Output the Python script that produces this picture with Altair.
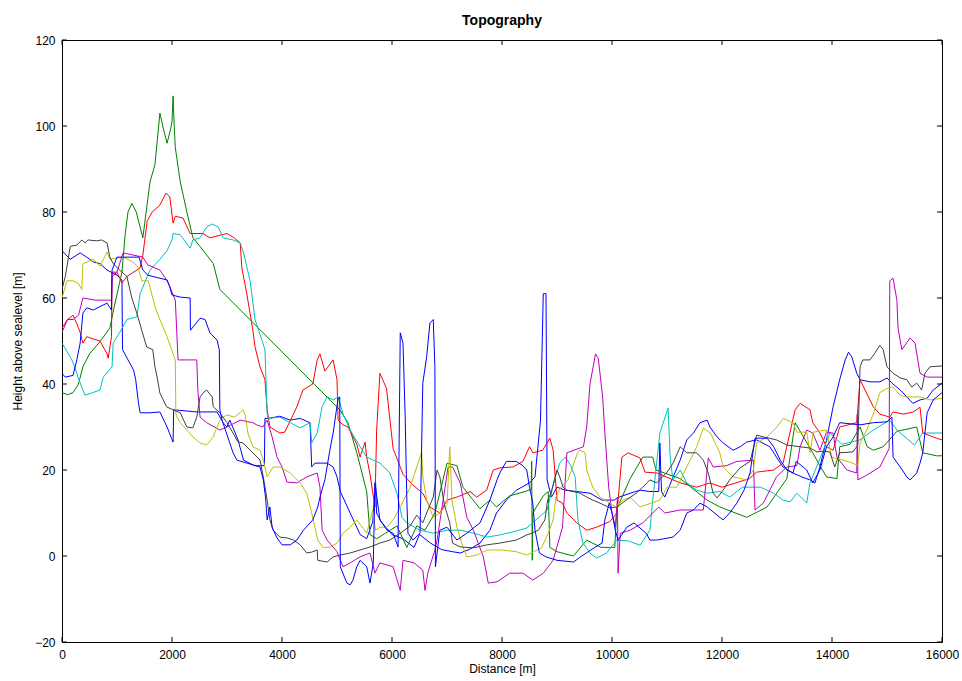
import altair as alt
import pandas as pd

# Profile lines: (distance [m], height [m]) along each transect
blue_a = [(0,71),(150,69),(330,70.5),(450,69.5),(570,68.4),(690,68),(820,66.5),(1000,65.3),(1090,64.2),(1100,48),
          (1200,45.6),(1300,43.3),(1340,41),(1390,35.6),(1420,33.3),(1600,33.3),(1780,33.5),(1850,31.6),(1910,30),
          (2020,26.5),(2030,34),(2450,33.5),(2820,33.5),(2930,31),(3000,30),(3050,31.6),(3150,28.6),(3200,27),
          (3300,22.3),(3500,21),(3680,21),(3690,32),(3750,32),(3960,32.5),(4150,31.6),(4330,32),(4510,31),
          (4540,20.7),(4600,21.6),(4820,21.6),(4930,20.7),(5000,18.4),(5060,15),(5240,10),(5420,5),(5540,4),
          (5650,8),(5700,17.7),(5720,10),(5800,8),(6000,5),(6200,4),(6400,2),(6500,5),(6700,3),(6900,1.5),
          (7100,1),(7240,0.7),(7400,1.5),(7600,3),(7780,6),(7900,10),(8080,13),(8260,15.3),(8500,17),(8600,18.4),
          (8700,31.6),(8750,61),(8800,61),(8820,17.7),(8900,13.7),(9000,16),(9150,15.3),(9360,15),(9600,14.6),
          (9820,13),(10040,13),(10090,13.5),(10330,14.6),(10510,15.3),(10690,15),(10850,15),(10870,26.3),
          (10900,15),(10960,13.7),(11100,18),(11240,22.3),(11360,27),(11480,28.6),(11600,31),(11730,31.6),
          (11780,30),(11910,27.7),(12020,26.3),(12200,24.6),(12330,25.4),(12450,26.5),(12630,27),(12870,25.4),
          (12990,23),(13110,20.7),(13290,19.3),(13450,18.4),(13600,17.7),(13690,17),(13780,20.7),(13900,27),
          (14020,34.7),(14140,41),(14240,45.6),(14300,47.4),(14360,46.3),(14450,42.5),(14510,41),(14690,40.5),
          (14870,40.5),(15000,41.4),(15090,40.2),(15240,38.6),(15360,37),(15470,35.5),(15600,36.3),(15730,36.7),
          (15840,38.6),(16000,40.2)]

green = [(0,38),(100,37.5),(200,38),(300,40),(380,44),(500,47),(700,50),(870,53),(950,58),(1090,66),(1150,75),
         (1200,80),(1270,82),(1350,80),(1470,74),(1530,80),(1600,87),(1690,91),(1780,103),(1850,99),(1910,96),
         (1970,99),(2000,101),(2020,107),(2040,100),(2060,95),(2150,87),(2270,80),(2380,74),(2510,72),(2750,68),
         (2870,62),(5050,34),(5200,31),(5360,24),(5420,21),(5540,15),(5600,5),(5720,4),(6090,7),(6270,2),(6450,7),
         (6600,6),(6780,10),(7000,21.6),(7180,21),(7290,16),(7600,11),(7780,13),(7900,11.4),(8140,14),(8420,15),
         (8530,15.5),(8540,22),(8550,-1),(8560,10),(8750,14),(8840,15),(8870,2),(9000,1),(9300,0),(9540,3.7),
         (9800,2),(10050,2),(10090,11),(10330,18),(10560,23),(10740,23),(10800,20),(11240,18),(11730,13),
         (11960,11.4),(12450,9),(12820,11.4),(13180,18),(13330,31),(13650,24),(13780,21),(13900,18.4),(14090,18),
         (14140,25.4),(14330,26),(14510,30),(14640,25.4),(14750,24.6),(14930,25.4),(15180,29),(15540,30),
         (15650,24),(15900,23.3),(16000,23.3)]

red = [(0,53),(100,55),(200,56),(270,54),(330,52),(380,49.5),(450,51),(560,50.5),(690,50),(820,47),(840,46),
       (900,51),(910,65),(1000,66),(1090,63.5),(1180,65),(1420,67),(1470,70),(1550,78),(1640,80),(1780,81.6),
       (1890,84.4),(1960,83.5),(2020,77.4),(2060,79),(2200,78.6),(2330,75),(2560,75),(2690,74),(3000,75),
       (3130,74),(3240,72.8),(3270,67),(3360,61),(3470,52.5),(3510,48.6),(3600,44),(3690,41),(3730,34),(3780,30),
       (3960,28.6),(4050,28.8),(4270,34.7),(4380,38.6),(4560,40),(4640,45.6),(4690,47),(4780,43),(4930,45.6),
       (5000,41),(5020,31.6),(5110,30.5),(5200,30),(5360,26),(5420,23),(5510,26.5),(5540,23),(5600,19),
       (5690,11.4),(5720,29),(5780,42.5),(5900,39),(6020,25),(6200,19),(6380,16.5),(6560,14.6),(6690,11.4),
       (6870,10),(7000,13),(7180,13.7),(7420,15),(7540,13.7),(7720,15.3),(7840,20),(7960,20.5),(8200,20.7),
       (8380,22),(8500,25.4),(8560,24),(8740,24.6),(8870,27.4),(8930,24.6),(9000,13),(9100,12.3),(9180,10),
       (9360,7.7),(9540,6),(9720,6.7),(9960,8),(10090,10),(10180,23),(10290,24),(10510,22.8),(10600,19.5),
       (10820,19.3),(11240,17),(11540,16),(11780,17),(12000,16),(12500,18),(12630,19.5),(12940,20),(13110,21.6),
       (13330,34),(13420,35.5),(13600,34),(13650,31),(13780,28.6),(13900,25.4),(14020,24.6),(14140,30),
       (14450,31),(14510,41),(14750,34.7),(14870,33),(15050,32.3),(15110,33.5),(15300,33),(15480,33.5),
       (15600,34.6),(15650,28.6),(15900,27.4),(16000,27)]

cyan = [(0,49.5),(180,45.6),(240,43.7),(290,41.6),(380,38.6),(420,37.4),(560,38),(690,38.6),(750,41.6),(910,44),
        (930,49.5),(1050,52),(1180,55),(1360,55.6),(1420,61),(1550,65),(1600,66.5),(1780,69),(1910,71),(2000,73.5),
        (2020,75),(2150,74.7),(2330,71.6),(2380,73.5),(2510,74),(2630,76.5),(2730,77.2),(2840,76.5),(2930,74),
        (3110,73.5),(3240,72.8),(3300,70.5),(3420,64),(3510,55),(3640,50),(3690,48),(3730,33),(3750,32),
        (3960,32.3),(4150,31),(4330,29.8),(4510,31),(4540,26.3),(4640,28.6),(4730,34.7),(4820,37),(4930,36.3),
        (5020,37),(5110,33),(5240,29.3),(5420,25.4),(5540,23),(5780,21.6),(5960,19.3),(6090,14.6),(6180,9),
        (6270,7.7),(6510,6),(6750,5.3),(7000,6),(7240,6),(7480,5.3),(7730,4.4),(7960,4.9),(8200,5.6),(8450,6.5),
        (8820,10.7),(8960,18),(9050,21.6),(9150,23),(9250,21),(9330,18.4),(9380,8.4),(9470,3),(9600,0.7),
        (9720,-0.5),(9900,0.7),(10090,3.7),(10300,3.5),(10510,2.5),(10690,6),(10740,13),(10870,28.6),
        (11020,34.4),(11060,22.3),(11110,17.7),(11240,20),(11360,17),(11540,15.3),(11730,14.6),(11960,15),
        (12140,13.7),(12370,16),(12700,16),(12940,14.6),(13110,13),(13240,12.6),(13360,14.6),(13540,12.3),
        (13600,17),(13720,20.7),(13840,24.6),(13960,28.6),(14180,26),(14510,27),(14750,29.3),(15050,31.6),
        (15180,29.3),(15500,25.8),(15650,28.6),(16000,28.6)]

magenta = [(0,52),(100,55),(200,55),(300,56),(380,60),(600,59.5),(840,59.5),(900,59.5),(910,66),(1000,66),
           (1110,70.5),(1290,70),(1470,69.5),(1560,67.7),(1780,66.5),(1910,64),(1960,62.6),(2060,59.5),
           (2110,45.6),(2150,45.6),(2450,45.6),(2470,38.6),(2510,32.3),(2630,31),(2870,29.3),(3000,30),
           (3240,31.6),(3470,31),(3540,30.5),(3650,30),(3730,31.6),(3820,27.7),(3910,23),(4000,20.7),(4090,17.2),
           (4270,17),(4450,18.4),(4640,19.3),(4690,16),(4730,6),(4820,3.7),(5000,1),(5110,-2.5),(5240,-1.6),
           (5420,-0.2),(5600,0.7),(5690,-4),(5780,-1.6),(6020,-2.5),(6150,-8),(6200,-1),(6400,-1.6),(6560,-3.3),
           (6600,-8),(6650,-4),(6780,1.4),(6820,3.7),(7020,20.7),(7100,20.7),(7240,17),(7360,9),(7480,6),
           (7660,-0.2),(7750,-6.3),(7910,-6),(8140,-4),(8380,-4),(8560,-5.6),(8750,-4),(8930,-1),(9100,6.7),
           (9180,24),(9480,25.4),(9540,30),(9600,40),(9700,47),(9750,46),(9830,37),(9870,28.6),(9940,16),
           (10000,10),(10060,6.7),(10100,13.7),(10110,-4),(10150,5.3),(10330,6),(10560,7.7),(10850,11.4),
           (10960,10),(11240,10.7),(11660,10.7),(11750,22.8),(11840,20.7),(12080,21),(12270,22),(12570,22.3),
           (12600,10.7),(12750,12.3),(12870,15.3),(12990,18.4),(13180,20.7),(13360,21),(13420,25.4),(13540,29.3),
           (13650,28.6),(13780,24.6),(13900,28.8),(14020,28.6),(14090,23),(14270,20),(14450,19.3),(14460,33),
           (14470,17.7),(14630,18.8),(14870,20.7),(14960,23),(15040,25),(15050,64),(15110,64.6),(15180,59.5),
           (15200,53),(15270,48),(15420,50.7),(15510,49.5),(15600,42.5),(15730,41.6),(16000,41.6)]

yellow = [(0,60),(90,64),(200,64),(290,63.5),(360,62),(380,68),(570,69),(690,67.4),(820,70.7),(870,69),(1000,69.3),
          (1110,69.5),(1290,68.4),(1380,67.2),(1450,64),(1570,64),(1690,58),(1780,55),(1910,51),(2020,47),
          (2060,45.6),(2070,33),(2090,32.3),(2150,31),(2270,29.3),(2380,27.7),(2510,26.3),(2630,25.8),(2750,27.7),
          (2820,30),(2870,31.6),(2930,32.3),(3000,32.8),(3140,32.3),(3290,34),(3330,32.8),(3380,28.6),(3470,25.4),
          (3600,24.6),(3660,22.3),(3730,18.4),(3840,20.7),(3960,20.7),(4150,19.3),(4330,17),(4450,14.6),(4540,10),
          (4650,3.7),(4750,1.9),(4880,2.1),(5000,3),(5110,5.3),(5240,6.7),(5360,8.4),(5540,5.3),(5650,10.7),
          (5700,6),(5780,6.7),(5910,6.7),(6020,8.4),(6150,11.4),(6330,16),(6450,20.7),(6540,24.2),(6560,18.4),
          (6630,13),(6750,9),(6870,10),(7000,12),(7050,25.4),(7090,13),(7180,6.7),(7290,2.1),(7360,-0.2),
          (7540,0.2),(7730,1.4),(8000,1.4),(8260,1),(8450,0.2),(8720,1.9),(8840,5.3),(8930,8.4),(8980,13.7),
          (9070,16),(9200,17.7),(9380,24.2),(9420,24.6),(9510,24),(9540,20),(9650,16),(9780,13.7),(9960,12.3),
          (10070,11.4),(10200,13),(10330,13.7),(10510,11.4),(10870,13),(11000,16),(11180,16),(11360,20.7),
          (11540,25.4),(11660,29.7),(11790,28.6),(11960,24),(12020,20.7),(12200,18.4),(12450,17.7),(12570,20),
          (12630,26.3),(12820,27.7),(13000,30),(13110,32),(13290,31),(13360,28.8),(13540,28.8),(13600,24),
          (13660,28.8),(13900,29.3),(13990,23),(14200,22.3),(14380,21.6),(14470,21),(14510,26.3),(14630,29.3),
          (14750,33),(14870,38),(15000,39),(15110,39.3),(15240,37.4),(15360,37),(15600,37),(15780,36.3),
          (16000,36.7)]

black = [(0,62),(60,65),(150,72),(270,72.3),(360,73.5),(420,72.8),(470,73.5),(630,73.3),(720,73.5),(820,72.8),
         (870,69.5),(930,68),(1050,66.5),(1180,65),(1270,60),(1360,56.5),(1450,52.5),(1540,48.6),(1650,48),
         (1690,44),(1730,41.6),(1780,37.9),(1900,34.7),(2020,34),(2150,33.3),(2270,30),(2380,29.8),(2450,32.3),
         (2510,37),(2580,38.1),(2630,38.6),(2730,37),(2750,34.7),(2870,33.3),(3000,31),(3110,28.6),(3200,26.5),
         (3290,26.3),(3600,22.3),(3660,18.4),(3730,13),(3780,8.4),(3840,6),(3960,4.4),(4090,4.2),(4210,3.7),
         (4330,2.6),(4450,0.7),(4540,0.9),(4640,1.4),(4650,-1),(4820,-1.4),(4930,-0.2),(5050,0.2),(5240,0.7),
         (5420,1.4),(5600,2.1),(5780,3),(5960,3.7),(6150,5.3),(6330,7),(6450,9.5),(6560,7.7),(6630,10),
         (6750,13.7),(6820,20),(6870,18.4),(6950,12),(7050,7.7),(7100,3),(7240,2.1),(7480,1.9),(7730,2.6),
         (7960,3),(8260,3.7),(8450,4.9),(8540,5.3),(8660,6),(8780,8.4),(8830,13),(8890,14.6),(9000,20),
         (9050,18.4),(9110,16),(9180,15.3),(9290,15),(9420,14.6),(9540,13.7),(9650,13),(9780,12.3),(9960,11.2),
         (10090,11.4),(10260,13),(10440,14.6),(10560,16),(10690,17.7),(10810,17),(10990,19.3),(11110,21.6),
         (11240,25.4),(11360,24),(11540,24),(11660,22.3),(11750,19.3),(11840,14.6),(11910,13.5),(12020,15.3),
         (12140,17.7),(12330,20.5),(12510,22),(12630,28.1),(12750,27.7),(12990,27),(13180,25.8),(13420,25.4),
         (13600,25.1),(13730,24.2),(13840,24.4),(13960,24.2),(14050,20.7),(14140,24),(14380,24.2),(14470,25.8),
         (14510,44),(14560,45.6),(14690,45.6),(14780,47.2),(14870,49),(14930,48),(15000,44),(15110,42.5),
         (15240,41.4),(15360,41),(15450,39.3),(15540,40.2),(15630,38.6),(15690,42.5),(15780,44),(16000,44.2)]

blue_b = [(0,42.5),(60,41.6),(200,42),(270,45.6),(330,49.5),(380,56.5),(450,57.7),(570,57.2),(690,58),(820,58.8),
          (900,57.2),(910,66.5),(1000,69.5),(1100,69.5),(1400,69.5),(1470,66.5),(1560,65.3),(1780,64.6),
          (1910,64.2),(1960,62.6),(2000,60.7),(2150,60.2),(2330,60),(2335,52.5),(2510,55.3),(2600,55),(2690,51.9),
          (2820,50.2),(2860,48),(2870,34),(2910,31.6),(3050,26.3),(3110,24),(3180,22.3),(3600,20.7),(3660,17.7),
          (3700,13.7),(3730,8.4),(3780,11.4),(3820,6.7),(3900,4.4),(4000,2.6),(4150,2.6),(4270,3.7),(4390,6),
          (4560,8.4),(4650,11.4),(4690,13.7),(4780,17.7),(4870,24.6),(4930,28.6),(5020,36.7),(5050,37),
          (5060,-2.5),(5180,-6.3),(5240,-6.7),(5290,-5.6),(5360,-2.5),(5420,-1),(5540,-2.5),(5600,-6.3),
          (5660,-1.6),(5690,17),(5780,8.4),(5910,6),(6020,5.3),(6110,2.1),(6150,51.9),(6200,49.5),(6240,32.3),
          (6270,13),(6290,5.3),(6380,3.7),(6510,5.3),(6560,40.2),(6630,46.3),(6690,54.2),(6750,55),(6780,44),
          (6790,-2.5),(6870,6),(7000,6.7),(7180,3.7),(7360,5.3),(7600,7.7),(7780,13),(7910,17.7),(7960,19.3),
          (8080,22),(8260,22),(8380,21),(8450,20),(8500,16),(8560,12.3),(8600,6),(8680,0.7),(8800,-0.2),
          (9000,-1),(9300,-1.4),(9450,0),(9700,2.1),(9820,3),(9870,8.4),(9950,12.3),(10000,10),(10060,6),
          (10110,3.7),(10270,6.7),(10400,7.7),(10620,5.3),(10690,3.7),(10810,3.7),(11110,4.4),(11240,6),
          (11360,10),(11480,10.7),(11600,12.3),(11730,11.4),(11960,9),(12020,8.4),(12140,10),(12270,12.3),
          (12400,15.3),(12510,19.3),(12600,27.4),(12820,27.4),(12940,25.4),(13060,22.3),(13180,20),(13290,19.3),
          (13350,22),(13540,20),(13650,17),(13780,20),(13900,25.4),(14020,27.7),(14140,31),(14510,30.5),
          (14750,31),(15000,31.2),(15090,32.3),(15110,23),(15240,20.7),(15360,18.4),(15420,17.7),(15540,19.3),
          (15600,21.6),(15650,24),(15730,33.3),(15840,36.3),(16000,38)]

series_names = ["b1", "g", "r", "c", "m", "y", "k", "b2"]
series_data = [blue_a, green, red, cyan, magenta, yellow, black, blue_b]
series_colors = ["#0000FF", "#008000", "#FF0000", "#00BFBF", "#BF00BF", "#BFBF00", "#404040", "#0000FF"]

x_ticks = [0, 2000, 4000, 6000, 8000, 10000, 12000, 14000, 16000]
y_ticks = [-20, 0, 20, 40, 60, 80, 100, 120]
x_min, x_max = 0, 16000
y_min, y_max = -20, 120

rows = []
for name, pts in zip(series_names, series_data):
    for i, (xv, yv) in enumerate(pts):
        rows.append({"series": name, "idx": i, "dist": xv, "height": yv})
df = pd.DataFrame(rows)

font = "Liberation Sans"
x_scale = alt.Scale(domain=[x_min, x_max], nice=False, zero=False)
y_scale = alt.Scale(domain=[y_min, y_max], nice=False, zero=False)

# Same axis definition in every layer so the merged axes stay intact
x_axis = alt.Axis(values=x_ticks, format="d", title="Distance [m]", grid=False, domain=False,
                  ticks=False, labelPadding=7, titlePadding=3, labelFont=font, labelFontSize=12,
                  titleFont=font, titleFontSize=12, titleFontWeight="normal",
                  labelColor="black", titleColor="black", labelFlush=False)
y_axis = alt.Axis(values=y_ticks, format="d", title="Height above sealevel [m]", grid=False,
                  domain=False, ticks=False, labelPadding=7, titlePadding=10, labelFont=font,
                  labelFontSize=12, titleFont=font, titleFontSize=12, titleFontWeight="normal",
                  labelColor="black", titleColor="black", labelFlush=False)

lines = alt.Chart(df).mark_line(strokeWidth=1, clip=True).encode(
    x=alt.X("dist:Q", scale=x_scale, axis=x_axis),
    y=alt.Y("height:Q", scale=y_scale, axis=y_axis),
    color=alt.Color("series:N", scale=alt.Scale(domain=series_names, range=series_colors), legend=None),
    order=alt.Order("idx:Q"),
)

# Inward tick marks on all four sides of the box
tick_len_x = 90      # in metres
tick_len_y = 1.15    # in metres of height
xt = pd.DataFrame({"t": x_ticks})
yt = pd.DataFrame({"t": y_ticks})

bottom_ticks = alt.Chart(xt).mark_rule(color="black", strokeWidth=1).encode(
    x=alt.X("t:Q", scale=x_scale, axis=x_axis), y=alt.datum(y_min), y2=alt.datum(y_min + tick_len_y))
top_ticks = alt.Chart(xt).mark_rule(color="black", strokeWidth=1).encode(
    x=alt.X("t:Q", scale=x_scale, axis=x_axis), y=alt.datum(y_max), y2=alt.datum(y_max - tick_len_y))
left_ticks = alt.Chart(yt).mark_rule(color="black", strokeWidth=1).encode(
    y=alt.Y("t:Q", scale=y_scale, axis=y_axis), x=alt.datum(x_min), x2=alt.datum(x_min + tick_len_x))
right_ticks = alt.Chart(yt).mark_rule(color="black", strokeWidth=1).encode(
    y=alt.Y("t:Q", scale=y_scale, axis=y_axis), x=alt.datum(x_max), x2=alt.datum(x_max - tick_len_x))

chart = alt.layer(lines, bottom_ticks, top_ticks, left_ticks, right_ticks).properties(
    width=880, height=602,
    title=alt.TitleParams("Topography", font=font, fontSize=14, fontWeight="bold", color="black",
                          anchor="middle", frame="group", offset=6),
    autosize=alt.AutoSizeParams(type="none"),
    padding={"left": 62, "top": 40, "right": 20, "bottom": 39},
).configure(background="white").configure_view(stroke="black", strokeWidth=1)

chart.save("out.html", embed_options={"renderer": "svg", "actions": False})
